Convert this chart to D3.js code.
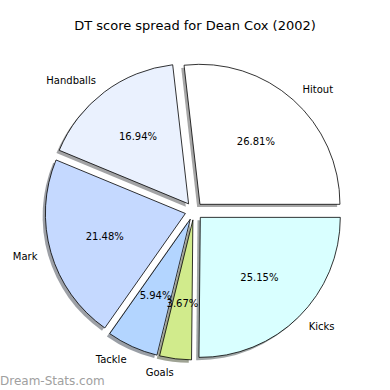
<!DOCTYPE html>
<html>
<head>
<meta charset="utf-8">
<script src="https://cdn.jsdelivr.net/npm/d3@7"></script>
<style>
  body { margin: 0; background: #fff; }
  text { font-family: "DejaVu Sans", sans-serif; fill: #000; }
</style>
</head>
<body>
<div id="chart"></div>
<script>
var svgWidth = 390;
var svgHeight = 390;

// data
var categories = ["Hitout", "Handballs", "Mark", "Tackle", "Goals", "Kicks"];
var values = [26.81, 16.94, 21.48, 5.94, 3.67, 25.15];
var colors = ["#ffffff", "#eaf1fe", "#c5d9ff", "#b3d5ff", "#d1eb8c", "#d9ffff"];

var cx = 194, cy = 211;
var radius = 140;
var explode = 0.064;

var svg = d3.select("#chart")
  .append("svg")
  .attr("width", svgWidth)
  .attr("height", svgHeight);

svg.append("text")
  .attr("x", 195)
  .attr("y", 30)
  .attr("text-anchor", "middle")
  .style("font-size", "13px")
  .text("DT score spread for Dean Cox (2002)");

// angles counter-clockwise from 3 o'clock, like matplotlib
var total = d3.sum(values);
var angleScale = d3.scaleLinear().domain([0, total]).range([0, 2 * Math.PI]);
var cum = 0;
var slices = values.map(function(v, i) {
  var a0 = angleScale(cum);
  cum += v;
  var a1 = angleScale(cum);
  var mid = (a0 + a1) / 2;
  return {
    name: categories[i], value: v, color: colors[i],
    a0: a0, a1: a1, mid: mid,
    dx: Math.cos(mid) * explode * radius,
    dy: -Math.sin(mid) * explode * radius
  };
});

var arc = d3.arc()
  .innerRadius(0)
  .outerRadius(radius)
  .startAngle(d => Math.PI / 2 - d.a1)
  .endAngle(d => Math.PI / 2 - d.a0);

var pieGroup = svg.append("g")
  .attr("transform", `translate(${cx}, ${cy})`);

// shadows
pieGroup.selectAll(".shadow")
  .data(slices)
  .enter()
  .append("path")
  .attr("class", "shadow")
  .attr("transform", d => `translate(${d.dx - 2.8}, ${d.dy + 2.8})`)
  .attr("d", arc)
  .attr("fill", function(d) {
    var c = d3.rgb(d.color);
    return d3.rgb(c.r * 0.3, c.g * 0.3, c.b * 0.3);
  })
  .attr("opacity", 0.5);

// wedges
pieGroup.selectAll(".wedge")
  .data(slices)
  .enter()
  .append("path")
  .attr("class", "wedge")
  .attr("transform", d => `translate(${d.dx}, ${d.dy})`)
  .attr("d", arc)
  .attr("fill", d => d.color)
  .attr("stroke", "#000")
  .attr("stroke-width", 0.8)
  .attr("stroke-linejoin", "miter");

// category labels
pieGroup.selectAll(".label")
  .data(slices)
  .enter()
  .append("text")
  .attr("class", "label")
  .attr("x", d => d.dx + Math.cos(d.mid) * radius * 1.1)
  .attr("y", d => d.dy - Math.sin(d.mid) * radius * 1.1)
  .attr("dy", "0.35em")
  .attr("text-anchor", d => Math.cos(d.mid) > 0 ? "start" : "end")
  .style("font-size", "10px")
  .text(d => d.name);

// percentages
pieGroup.selectAll(".pct")
  .data(slices)
  .enter()
  .append("text")
  .attr("class", "pct")
  .attr("x", d => d.dx + Math.cos(d.mid) * radius * 0.6)
  .attr("y", d => d.dy - Math.sin(d.mid) * radius * 0.6)
  .attr("dy", "0.35em")
  .attr("text-anchor", "middle")
  .style("font-size", "10px")
  .text(d => d.value.toFixed(2) + "%");

svg.append("text")
  .attr("x", 0)
  .attr("y", 385)
  .style("font-size", "12px")
  .style("fill", "#a0a0a0")
  .text("Dream-Stats.com");
</script>
</body>
</html>
